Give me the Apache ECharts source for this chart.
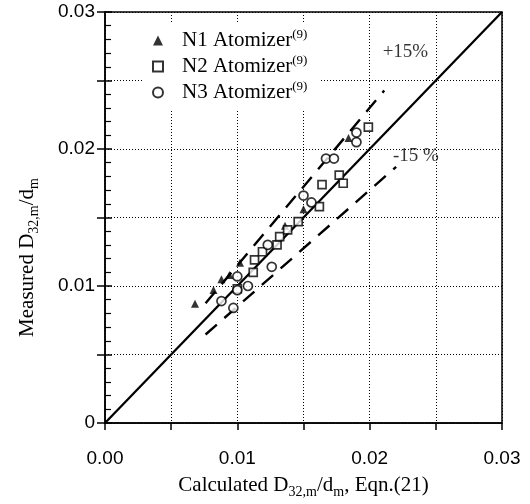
<!DOCTYPE html>
<html>
<head>
<meta charset="utf-8">
<script src="https://cdn.jsdelivr.net/npm/echarts@6/dist/echarts.min.js"></script>
<style>html,body{margin:0;padding:0;background:#fff;}#c{width:530px;height:504px;}</style>
</head>
<body>
<div id="c"></div>
<script>
// ---- data ----
const seriesNames = ['N1 Atomizer', 'N2 Atomizer', 'N3 Atomizer'];
const n1X = [0.0068, 0.0082, 0.0088, 0.0094, 0.0102, 0.0136, 0.0150, 0.0184];
const n1Y = [0.0087, 0.0097, 0.0105, 0.0108, 0.0117, 0.0144, 0.0156, 0.0208];
const n2X = [0.0100, 0.0112, 0.0113, 0.0119, 0.0130, 0.0132, 0.0138, 0.0146, 0.0162, 0.0164, 0.0177, 0.0180, 0.0199];
const n2Y = [0.0098, 0.0110, 0.0119, 0.0125, 0.0130, 0.0136, 0.0141, 0.0147, 0.0158, 0.0174, 0.0181, 0.0175, 0.0216];
const n3X = [0.0088, 0.0097, 0.0100, 0.0100, 0.0108, 0.0123, 0.0126, 0.0150, 0.0156, 0.0167, 0.0173, 0.0190, 0.0190];
const n3Y = [0.0089, 0.0084, 0.0097, 0.0107, 0.0100, 0.0130, 0.0114, 0.0166, 0.0161, 0.0193, 0.0193, 0.0212, 0.0205];
const diagX = [0, 0.03];
const plusX = [0.0076, 0.0211];
const minusX = [0.0076, 0.0220];
const plusFactor = 1.15;
const minusFactor = 0.85;
const pctLabels = ['+15%', '-15 %'];
const pctX = [0.0227, 0.0235];
const pctY = [0.0271, 0.0195];
const xTickLabels = ['0.00', '0.01', '0.02', '0.03'];
const yTickLabels = ['0', '0.01', '0.02', '0.03'];

const zip = (a, b) => a.map((v, i) => [v, b[i]]);
const serif = 'Liberation Serif';
const sans = 'Liberation Sans';

const chart = echarts.init(document.getElementById('c'), null, {renderer: 'canvas'});
const isMajor = v => Math.abs(v * 100 - Math.round(v * 100)) < 1e-6;
const subRich = {
  m: {fontSize: 21, fontFamily: serif, color: '#000', lineHeight: 28},
  s: {fontSize: 14, fontFamily: serif, color: '#000', lineHeight: 14, verticalAlign: 'bottom'}
};
const lineBase = {type: 'line', showSymbol: false, symbol: 'none', silent: true, z: 1, animation: false};

const option = {
  animation: false,
  backgroundColor: '#fff',
  grid: {left: 105, right: 28, top: 12, bottom: 80, show: true, borderColor: '#000', borderWidth: 1.5, backgroundColor: 'transparent'},
  legend: {
    data: seriesNames,
    orient: 'vertical',
    left: 144, top: 22,
    padding: [6, 12, 6, 8],
    backgroundColor: '#fff',
    itemWidth: 10, itemHeight: 10, itemGap: 3,
    formatter: n => '{t|' + n + '}{p|(9)}',
    textStyle: {
      padding: [0, 0, 0, 14],
      rich: {
        t: {fontSize: 21, fontFamily: serif, color: '#000', lineHeight: 25},
        p: {fontSize: 13, fontFamily: serif, color: '#000', lineHeight: 13, verticalAlign: 'top'}
      }
    }
  },
  xAxis: {
    type: 'value', min: 0, max: 0.03, interval: 0.005,
    axisLine: {onZero: false, lineStyle: {color: '#000', width: 1.5}},
    axisTick: {length: 7, lineStyle: {color: '#000', width: 1.5}},
    axisLabel: {margin: 26, color: '#000', fontSize: 19, fontFamily: sans,
      formatter: v => isMajor(v) ? xTickLabels[Math.round(v * 100)] : ''},
    splitLine: {show: true, lineStyle: {color: '#000', width: 1, type: [1, 2]}},
    name: '{m|Calculated D}{s|32,m}{m|/d}{s|m}{m|, Eqn.(21)}',
    nameLocation: 'middle', nameGap: 48,
    nameTextStyle: {rich: subRich}
  },
  yAxis: [{
    type: 'value', min: 0, max: 0.03, interval: 0.005,
    axisLine: {onZero: false, lineStyle: {color: '#000', width: 1.5}},
    axisTick: {inside: true, length: 7, lineStyle: {color: '#000', width: 1.5}},
    minorTick: {show: true, splitNumber: 5, length: 6, lineStyle: {color: '#000', width: 1.2}},
    axisLabel: {margin: 10, color: '#000', fontSize: 19, fontFamily: sans,
      formatter: v => isMajor(v) ? yTickLabels[Math.round(v * 100)] : ''},
    splitLine: {show: true, lineStyle: {color: '#000', width: 1, type: [1, 2]}},
    name: '{m|Measured D}{s|32,m}{m|/d}{s|m}',
    nameLocation: 'middle', nameGap: 64,
    nameTextStyle: {rich: subRich, padding: [0, 80, 0, 0]}
  }, {
    type: 'value', min: 0, max: 0.03, interval: 0.005, position: 'left',
    axisLine: {show: false},
    axisTick: {show: true, inside: false, length: 8, lineStyle: {color: '#000', width: 1.5}},
    axisLabel: {show: false},
    splitLine: {show: false}
  }],
  series: [
    Object.assign({}, lineBase, {name: 'diag', data: diagX.map(x => [x, x]), lineStyle: {color: '#000', width: 2.3}}),
    Object.assign({}, lineBase, {name: 'plus', data: plusX.map(x => [x, x * plusFactor]), lineStyle: {color: '#000', width: 2.4, type: [15, 10]}}),
    Object.assign({}, lineBase, {name: 'minus', data: minusX.map(x => [x, x * minusFactor]), lineStyle: {color: '#000', width: 2.4, type: [15, 10]}}),
    {type: 'scatter', name: seriesNames[0], data: zip(n1X, n1Y), symbol: 'triangle', symbolSize: 8,
      itemStyle: {color: '#000'}, z: 3},
    {type: 'scatter', name: seriesNames[1], data: zip(n2X, n2Y), symbol: 'rect', symbolSize: 8,
      itemStyle: {color: '#fff', borderColor: '#000', borderWidth: 1.7}, z: 3},
    {type: 'scatter', name: seriesNames[2], data: zip(n3X, n3Y), symbol: 'circle', symbolSize: 9,
      itemStyle: {color: '#fff', borderColor: '#000', borderWidth: 1.7}, z: 3},
    {type: 'scatter', name: 'pct', data: zip(pctX, pctY), symbolSize: 0, silent: true,
      label: {show: true, position: 'inside', color: '#000', fontSize: 19, fontFamily: serif,
        formatter: p => pctLabels[p.dataIndex]}}
  ]
};
chart.setOption(option);
</script>
</body>
</html>
